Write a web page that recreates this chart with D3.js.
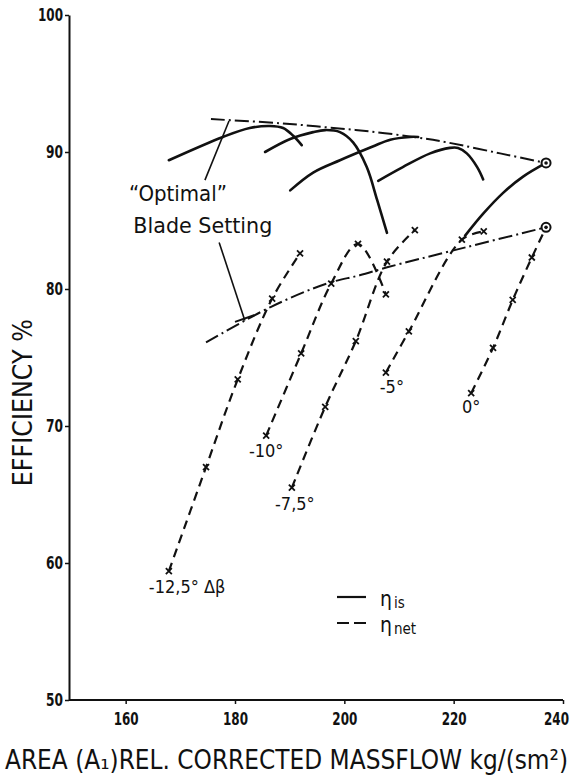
<!DOCTYPE html>
<html>
<head>
<meta charset="utf-8">
<script src="https://cdn.jsdelivr.net/npm/d3@7"></script>
<style>
  body { margin: 0; background: #fff; }
  svg { display: block; }
  text { font-family: "DejaVu Sans Condensed", "DejaVu Sans", sans-serif; fill: #111; }
</style>
</head>
<body>
<svg id="chart"></svg>
<script>
// axis ticks
const xTicks = [160, 180, 200, 220, 240];
const yTicks = [50, 60, 70, 80, 90, 100];

// eta_is (solid) curves, one per blade setting  [massflow, efficiency]
const isM125 = [[167.9, 89.4], [177.8, 91.1], [182.7, 91.75], [186.4, 91.9], [188.8, 91.75], [190.6, 91.2], [192.2, 90.5]];
const isM10  = [[185.5, 90.0], [190.1, 90.95], [194.3, 91.45], [196.5, 91.6], [199.2, 91.45], [201.6, 90.7], [204.1, 88.9], [206.0, 86.5], [207.8, 84.1]];
const isM75  = [[190.1, 87.2], [194.3, 88.5], [199.2, 89.4], [205.2, 90.4], [208.4, 90.9], [212.0, 91.1], [213.5, 91.1]];
const isM5   = [[206.2, 87.9], [210.7, 88.9], [215.7, 89.9], [219.3, 90.3], [220.8, 90.3], [222.4, 89.9], [224.3, 88.9], [225.4, 88.0]];
const is0    = [[222.1, 83.9], [225.4, 85.5], [229.0, 87.0], [232.7, 88.2], [236.9, 89.2]];

// eta_net (dashed) measured points
const netM125 = [[167.9, 59.4], [174.7, 67.0], [180.5, 73.4], [186.8, 79.3], [191.9, 82.6]];
const netM10  = [[185.7, 69.3], [192.1, 75.3], [197.6, 80.4], [202.5, 83.3], [207.6, 79.6]];
const netM75  = [[190.4, 65.5], [196.5, 71.4], [202.1, 76.2], [207.8, 82.0], [212.9, 84.3]];
const netM5   = [[207.6, 73.9], [211.8, 76.9], [221.5, 83.6], [225.5, 84.2]];
const net0    = [[223.2, 72.4], [227.2, 75.7], [230.8, 79.2], [234.3, 82.3], [236.9, 84.5]];

// "optimal blade setting" envelopes (dash-dot)
const optIs  = [[175.6, 92.4], [188.2, 92.1], [196.8, 91.8], [204.7, 91.5], [212.6, 91.1], [218.8, 90.7], [228.5, 89.9], [236.9, 89.2]];
const optNet = [[174.7, 76.1], [186.6, 78.7], [196.8, 80.4], [202.8, 81.0], [208.0, 81.6], [219.8, 82.8], [236.8, 84.5]];

// curve labels
const netLabels = ["-12,5° Δβ", "-10°", "-7,5°", "-5°", "0°"];

const W = 573, H = 781;
const svg = d3.select("#chart").attr("width", W).attr("height", H);

const x = d3.scaleLinear().domain([150, 240]).range([71, 563]);
const y = d3.scaleLinear().domain([50, 100]).range([700, 15]);

const line = d3.line().x(d => x(d[0])).y(d => y(d[1])).curve(d3.curveCatmullRom.alpha(0.5));

// axes
const gx = svg.append("g").attr("transform", "translate(0,700)")
  .call(d3.axisBottom(x).tickValues(xTicks).tickSize(4).tickSizeOuter(0).tickPadding(8));
const gy = svg.append("g").attr("transform", "translate(69,0)")
  .call(d3.axisLeft(y).tickValues(yTicks).tickSize(4).tickSizeOuter(0).tickPadding(2));
[gx, gy].forEach(g => {
  g.attr("font-family", null).attr("font-size", null);
  g.select(".domain").attr("stroke", "#111").attr("stroke-width", 2);
  g.selectAll(".tick line").attr("stroke", "#111").attr("stroke-width", 1.5);
  g.selectAll(".tick text").attr("fill", "#111")
    .style("font-family", '"DejaVu Sans", sans-serif')
    .style("font-size", "18px").style("font-weight", "bold")
    .attr("textLength", d => d >= 100 ? 25 : 17)
    .attr("lengthAdjust", "spacingAndGlyphs");
});
gx.select(".domain").attr("d", `M${x(150) - 2},0H${x(240)}`);
// last label sits a little inside the frame, as in the print
gx.selectAll(".tick text").filter(d => d === 240).attr("dx", -7);

// axis titles
svg.append("text")
  .attr("x", 5).attr("y", 769)
  .attr("textLength", 563).attr("lengthAdjust", "spacingAndGlyphs")
  .style("font-size", "26px")
  .text("AREA (A\u2081)REL. CORRECTED MASSFLOW kg/(sm\u00B2)");

svg.append("text")
  .attr("transform", `translate(32,${y(71.7)}) rotate(-90)`)
  .attr("text-anchor", "middle")
  .attr("textLength", 167).attr("lengthAdjust", "spacingAndGlyphs")
  .style("font-size", "26px")
  .text("EFFICIENCY  %");

// envelopes
const dashDot = "14,4,2,4";
[optIs, optNet].forEach(c => {
  svg.append("path").attr("d", line(c))
    .attr("fill", "none").attr("stroke", "#111").attr("stroke-width", 2)
    .attr("stroke-dasharray", dashDot);
});

// eta_is solid curves
[isM125, isM10, isM75, isM5, is0].forEach(c => {
  svg.append("path").attr("d", line(c))
    .attr("fill", "none").attr("stroke", "#111").attr("stroke-width", 2.6)
    .attr("stroke-linecap", "round");
});

// eta_net dashed curves with x markers
const netCurves = [netM125, netM10, netM75, netM5, net0];
netCurves.forEach((c, i) => {
  svg.append("path").attr("d", line(c))
    .attr("fill", "none").attr("stroke", "#111").attr("stroke-width", 2.2)
    .attr("stroke-dasharray", "9,6");
  svg.append("g").selectAll("path").data(i === 4 ? c.slice(0, -1) : c).join("path")
    .attr("d", d => {
      const px = x(d[0]), py = y(d[1]), s = 3;
      return `M${px - s},${py - s}L${px + s},${py + s}M${px - s},${py + s}L${px + s},${py - s}`;
    })
    .attr("stroke", "#111").attr("stroke-width", 1.8);
});

// design point circles
[is0[is0.length - 1], net0[net0.length - 1]].forEach(d => {
  svg.append("circle").attr("cx", x(d[0])).attr("cy", y(d[1])).attr("r", 4.5)
    .attr("fill", "#fff").attr("stroke", "#111").attr("stroke-width", 2);
  svg.append("circle").attr("cx", x(d[0])).attr("cy", y(d[1])).attr("r", 1.8).attr("fill", "#111");
});

// curve labels, under the lowest measured point
const labelOffsets = [[-20, 22, "start"], [0, 21, "middle"], [3, 22, "middle"], [6, 20, "middle"], [0, 20, "middle"]];
netCurves.forEach((c, i) => {
  const d = c[0], o = labelOffsets[i];
  svg.append("text")
    .attr("x", x(d[0]) + o[0]).attr("y", y(d[1]) + o[1])
    .attr("text-anchor", o[2])
    .style("font-size", "18px")
    .text(netLabels[i]);
});

// "Optimal" Blade Setting annotation
svg.append("text").attr("x", x(160.6)).attr("y", y(86.4))
  .attr("textLength", 98).attr("lengthAdjust", "spacingAndGlyphs")
  .style("font-size", "21px").text("\u201COptimal\u201D");
svg.append("text").attr("x", x(161.4)).attr("y", y(84.1))
  .attr("textLength", 139).attr("lengthAdjust", "spacingAndGlyphs")
  .style("font-size", "21px").text("Blade Setting");
const leaders = [
  [[174.5, 87.95], [178.9, 92.26]],
  [[177.1, 83.4], [181.8, 77.7]]
];
leaders.forEach(l => {
  svg.append("line")
    .attr("x1", x(l[0][0])).attr("y1", y(l[0][1]))
    .attr("x2", x(l[1][0])).attr("y2", y(l[1][1]))
    .attr("stroke", "#111").attr("stroke-width", 1.6);
});
// small bar where the lower leader meets the envelope
svg.append("path").attr("d", line([[180.0, 77.6], [183.6, 78.1]]))
  .attr("stroke", "#111").attr("stroke-width", 2);

// legend
const legendRows = [["is", null], ["net", "9,6"]];
legendRows.forEach((r, i) => {
  const ly = 597 + i * 26;
  svg.append("line").attr("x1", 337).attr("x2", 366).attr("y1", ly).attr("y2", ly)
    .attr("stroke", "#111").attr("stroke-width", 2.2)
    .attr("stroke-dasharray", r[1] ? "12,5" : null);
  const t = svg.append("text").attr("x", 380).attr("y", ly + 9).style("font-size", "21px").text("η");
  t.append("tspan").attr("dx", 2).attr("dy", 2).style("font-size", "15px").text(r[0]);
});
</script>
</body>
</html>
